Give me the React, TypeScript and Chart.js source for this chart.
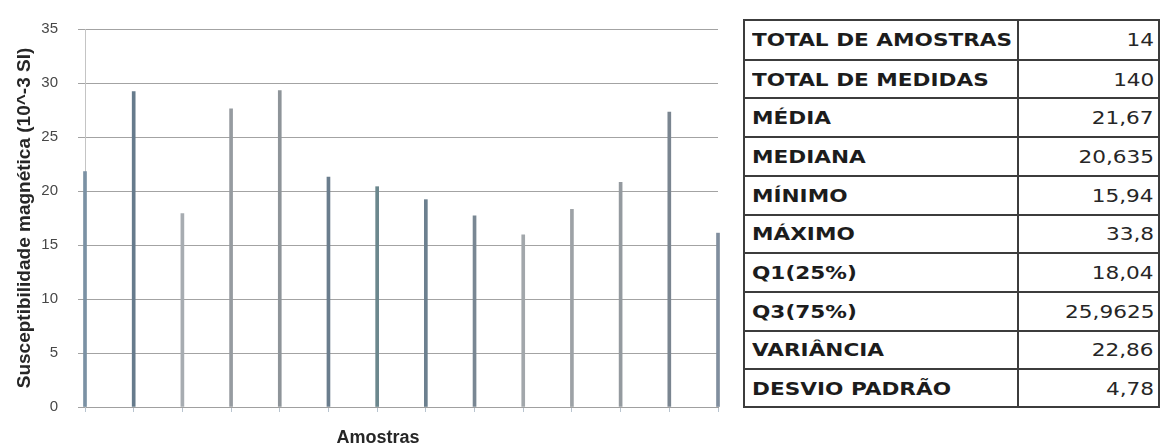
import React, { useEffect, useRef } from "react";
import { Chart, registerables } from "chart.js";

Chart.register(...registerables);

const categories = ["1", "2", "3", "4", "5", "6", "7", "8", "9", "10", "11", "12", "13", "14"];
const susceptibility = [21.8, 29.2, 17.9, 27.6, 29.3, 21.3, 20.4, 19.2, 17.7, 15.94, 18.3, 20.8, 27.3, 16.1];
const yTicks = [0, 5, 10, 15, 20, 25, 30, 35];
const yTitle = "Susceptibilidade magnética (10^-3 SI)";
const xTitle = "Amostras";
const statLabels = [
  "TOTAL DE AMOSTRAS",
  "TOTAL DE MEDIDAS",
  "MÉDIA",
  "MEDIANA",
  "MÍNIMO",
  "MÁXIMO",
  "Q1(25%)",
  "Q3(75%)",
  "VARIÂNCIA",
  "DESVIO PADRÃO",
];
const statValues = ["14", "140", "21,67", "20,635", "15,94", "33,8", "18,04", "25,9625", "22,86", "4,78"];

const barColors = [
  "#7b91a4", "#667b8c", "#a7acb1", "#969ba0", "#8e9499", "#6a7d8d", "#6b878d",
  "#6c808f", "#798793", "#a2a7ab", "#9da2a6", "#949a9f", "#7a8590", "#808e9e",
];

export default function App() {
  const canvasRef = useRef<HTMLCanvasElement | null>(null);

  useEffect(() => {
    const canvas = canvasRef.current;
    if (!canvas) return;
    const chart = new Chart(canvas, {
      type: "bar",
      data: {
        labels: categories,
        datasets: [
          {
            data: susceptibility,
            backgroundColor: barColors,
            barThickness: 3,
            clip: false as any,
          },
        ],
      },
      options: {
        animation: false,
        responsive: false,
        maintainAspectRatio: false,
        layout: { padding: { top: 18, right: 17, bottom: 0, left: 0 } },
        plugins: { legend: { display: false }, tooltip: { enabled: false }, title: { display: false } },
        scales: {
          x: {
            offset: false,
            grid: {
              display: true,
              offset: false,
              drawOnChartArea: false,
              drawTicks: true,
              tickLength: 5,
              color: "#b8c4cf",
            },
            border: { display: true, color: "#a0a0a0" },
            ticks: { display: false },
            afterFit: (s: any) => {
              s.height = 38;
            },
          },
          y: {
            min: 0,
            max: 35,
            afterBuildTicks: (s: any) => {
              s.ticks = yTicks.map((v) => ({ value: v }));
            },
            grid: {
              color: "#a3a3a3",
              lineWidth: 1,
              drawTicks: true,
              tickLength: 7,
            },
            border: { display: true, color: "#c4c4c4" },
            ticks: {
              padding: 20,
              color: "#474747",
              font: { family: "Liberation Sans", size: 15 },
            },
            title: {
              display: true,
              text: yTitle,
              color: "#262626",
              padding: { top: 13, bottom: 0 },
              font: { family: "Liberation Sans", size: 19, weight: "bold" },
            },
            afterFit: (s: any) => {
              s.width = 85;
            },
          },
        },
      },
    });
    return () => chart.destroy();
  }, []);

  const rowH = 387 / statLabels.length;

  return (
    <div style={{ position: "absolute", left: 0, top: 0, width: 1161, height: 445, background: "#ffffff", overflow: "hidden" }}>
      <canvas
        ref={canvasRef}
        width={735}
        height={445}
        style={{ position: "absolute", left: 0, top: 0, width: 735, height: 445 }}
      />
      <div
        style={{
          position: "absolute",
          left: 378,
          top: 437,
          transform: "translate(-50%, -50%)",
          fontFamily: "Liberation Sans",
          fontWeight: "bold",
          fontSize: 18,
          color: "#262626",
          whiteSpace: "nowrap",
        }}
      >
        {xTitle}
      </div>
      <div
        style={{
          position: "absolute",
          left: 743,
          top: 19,
          width: 417,
          height: 389,
          boxSizing: "border-box",
          border: "2px solid #3c3c3c",
          fontFamily: "DejaVu Sans",
          fontSize: 18,
          color: "#1c1c1c",
        }}
      >
        {statLabels.map((lab, i) => (
          <div
            key={lab}
            style={{
              position: "absolute",
              left: 0,
              top: i * rowH - 1,
              width: 413,
              height: rowH,
              borderTop: i === 0 ? "none" : "2px solid #3c3c3c",
              boxSizing: "border-box",
            }}
          >
            <div
              style={{
                position: "absolute",
                left: 7,
                top: 0,
                height: "100%",
                display: "flex",
                alignItems: "center",
                fontWeight: "bold",
                whiteSpace: "nowrap",
                transform: "scaleX(1.2)",
                transformOrigin: "left center",
              }}
            >
              {lab}
            </div>
            <div
              style={{
                position: "absolute",
                right: 4,
                top: 0,
                height: "100%",
                display: "flex",
                alignItems: "center",
                whiteSpace: "nowrap",
                transform: "scaleX(1.2)",
                transformOrigin: "right center",
                color: "#262626",
              }}
            >
              {statValues[i]}
            </div>
          </div>
        ))}
        <div
          style={{
            position: "absolute",
            left: 272,
            top: 0,
            width: 2,
            height: "100%",
            background: "#3c3c3c",
          }}
        />
      </div>
    </div>
  );
}
